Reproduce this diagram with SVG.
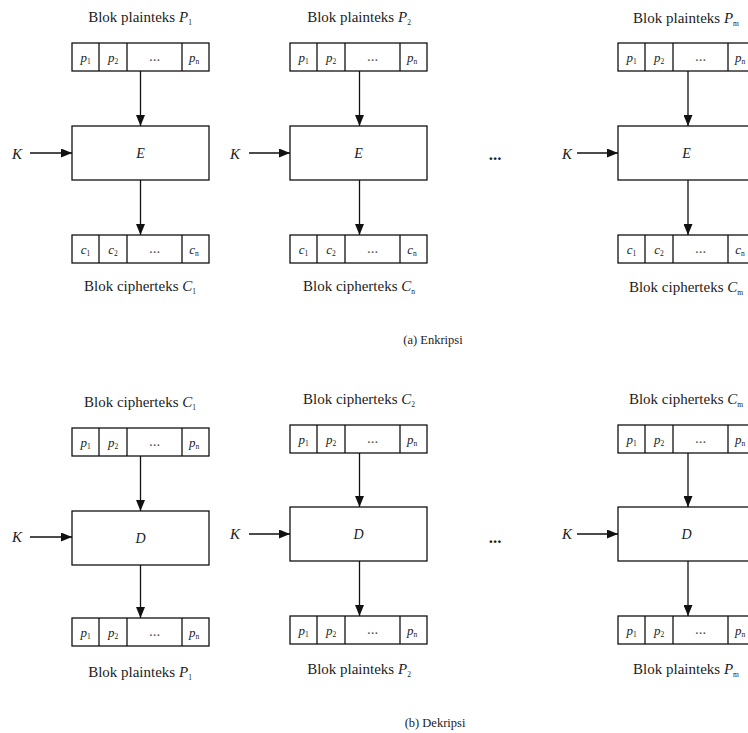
<svg xmlns="http://www.w3.org/2000/svg" width="748" height="733" viewBox="0 0 748 733">
  <defs>
    <style>
      text { font-family: "Liberation Serif", "Times New Roman", serif; fill: #1c1c1c; }
      .title { font-size: 15px; text-anchor: middle; }
      .cap { font-size: 12.5px; text-anchor: middle; }
      .cell { font-size: 13px; text-anchor: middle; font-style: italic; }
      .dots { font-size: 15px; text-anchor: middle; fill: #555; }
      .gap { font-size: 17px; text-anchor: middle; font-weight: bold; }
      .op { font-size: 14px; text-anchor: middle; font-style: italic; }
      .key { font-size: 15px; font-style: italic; }
      .it { font-style: italic; }
      .sub { font-size: 7.5px; font-style: normal; }
      .frame { fill: #fff; stroke: #111; stroke-width: 1.3; }
      .div { stroke: #111; stroke-width: 1.3; }
      .wire { stroke: #111; stroke-width: 1.3; fill: none; marker-end: url(#head); }
    </style>
    <marker id="head" markerUnits="userSpaceOnUse" markerWidth="12" markerHeight="9" refX="11" refY="4.5" orient="auto">
      <path d="M0,0 L11,4.5 L0,9 z" fill="#111"/>
    </marker>
    <!-- block of n bits: four cells, divider offsets 27 / 55 / 110 -->
    <g id="cells">
      <rect class="frame" x="0" y="0" width="137" height="28"/>
      <line class="div" x1="27" y1="0" x2="27" y2="28"/>
      <line class="div" x1="55" y1="0" x2="55" y2="28"/>
      <line class="div" x1="110" y1="0" x2="110" y2="28"/>
      <text class="dots" x="82.5" y="18">...</text>
    </g>
    <g id="pcells">
      <use href="#cells"/>
      <text class="cell" x="13.5" y="19">p<tspan class="sub" dy="2">1</tspan></text>
      <text class="cell" x="41" y="19">p<tspan class="sub" dy="2">2</tspan></text>
      <text class="cell" x="122" y="19">p<tspan class="sub" dy="2">n</tspan></text>
    </g>
    <g id="ccells">
      <use href="#cells"/>
      <text class="cell" x="13.5" y="19">c<tspan class="sub" dy="2">1</tspan></text>
      <text class="cell" x="41" y="19">c<tspan class="sub" dy="2">2</tspan></text>
      <text class="cell" x="122" y="19">c<tspan class="sub" dy="2">n</tspan></text>
    </g>
  </defs>

  <rect x="0" y="0" width="748" height="733" fill="#fff"/>

  <!-- (a) encryption -->
  <g id="enc-in-1" transform="translate(72,43)"><use href="#pcells"/></g>
  <g id="enc-E-1" transform="translate(72,126)">
    <rect class="frame" x="0" y="0" width="137" height="54"/>
    <text class="op" x="68.5" y="32">E</text>
  </g>
  <g id="enc-out-1" transform="translate(72,235)"><use href="#ccells"/></g>
  <g id="enc-K-1"><text class="key" x="12" y="159">K</text></g>
  <g id="enc-lbl-1">
    <text class="title" x="140" y="22">Blok plainteks <tspan class="it">P</tspan><tspan class="sub" dy="3">1</tspan></text>
    <text class="title" x="140" y="291">Blok cipherteks <tspan class="it">C</tspan><tspan class="sub" dy="3">1</tspan></text>
  </g>

  <g id="enc-in-2" transform="translate(290,43)"><use href="#pcells"/></g>
  <g id="enc-E-2" transform="translate(290,126)">
    <rect class="frame" x="0" y="0" width="137" height="54"/>
    <text class="op" x="68.5" y="32">E</text>
  </g>
  <g id="enc-out-2" transform="translate(290,235)"><use href="#ccells"/></g>
  <g id="enc-K-2"><text class="key" x="230" y="159">K</text></g>
  <g id="enc-lbl-2">
    <text class="title" x="359" y="22">Blok plainteks <tspan class="it">P</tspan><tspan class="sub" dy="3">2</tspan></text>
    <text class="title" x="359" y="291">Blok cipherteks <tspan class="it">C</tspan><tspan class="sub" dy="3">n</tspan></text>
  </g>

  <g id="enc-gap"><text class="gap" x="495" y="160">...</text></g>

  <g id="enc-in-m" transform="translate(618,43)"><use href="#pcells"/></g>
  <g id="enc-E-m" transform="translate(618,126)">
    <rect class="frame" x="0" y="0" width="137" height="54"/>
    <text class="op" x="68.5" y="32">E</text>
  </g>
  <g id="enc-out-m" transform="translate(618,235)"><use href="#ccells"/></g>
  <g id="enc-K-m"><text class="key" x="562" y="159">K</text></g>
  <g id="enc-lbl-m">
    <text class="title" x="686" y="23">Blok plainteks <tspan class="it">P</tspan><tspan class="sub" dy="3">m</tspan></text>
    <text class="title" x="686" y="292">Blok cipherteks <tspan class="it">C</tspan><tspan class="sub" dy="3">m</tspan></text>
  </g>

  <g id="cap-a"><text class="cap" x="433" y="344">(a) Enkripsi</text></g>

  <!-- (b) decryption -->
  <g id="dec-in-1" transform="translate(72,428)"><use href="#pcells"/></g>
  <g id="dec-D-1" transform="translate(72,511)">
    <rect class="frame" x="0" y="0" width="137" height="54"/>
    <text class="op" x="68.5" y="32">D</text>
  </g>
  <g id="dec-out-1" transform="translate(72,618)"><use href="#pcells"/></g>
  <g id="dec-K-1"><text class="key" x="12" y="542">K</text></g>
  <g id="dec-lbl-1">
    <text class="title" x="140" y="407">Blok cipherteks <tspan class="it">C</tspan><tspan class="sub" dy="3">1</tspan></text>
    <text class="title" x="140" y="677">Blok plainteks <tspan class="it">P</tspan><tspan class="sub" dy="3">1</tspan></text>
  </g>

  <g id="dec-in-2" transform="translate(290,425)"><use href="#pcells"/></g>
  <g id="dec-D-2" transform="translate(290,507)">
    <rect class="frame" x="0" y="0" width="137" height="54"/>
    <text class="op" x="68.5" y="32">D</text>
  </g>
  <g id="dec-out-2" transform="translate(290,616)"><use href="#pcells"/></g>
  <g id="dec-K-2"><text class="key" x="230" y="539">K</text></g>
  <g id="dec-lbl-2">
    <text class="title" x="359" y="404">Blok cipherteks <tspan class="it">C</tspan><tspan class="sub" dy="3">2</tspan></text>
    <text class="title" x="359" y="674">Blok plainteks <tspan class="it">P</tspan><tspan class="sub" dy="3">2</tspan></text>
  </g>

  <g id="dec-gap"><text class="gap" x="495" y="543">...</text></g>

  <g id="dec-in-m" transform="translate(618,425)"><use href="#pcells"/></g>
  <g id="dec-D-m" transform="translate(618,507)">
    <rect class="frame" x="0" y="0" width="137" height="54"/>
    <text class="op" x="68.5" y="32">D</text>
  </g>
  <g id="dec-out-m" transform="translate(618,616)"><use href="#pcells"/></g>
  <g id="dec-K-m"><text class="key" x="562" y="539">K</text></g>
  <g id="dec-lbl-m">
    <text class="title" x="686" y="404">Blok cipherteks <tspan class="it">C</tspan><tspan class="sub" dy="3">m</tspan></text>
    <text class="title" x="686" y="674">Blok plainteks <tspan class="it">P</tspan><tspan class="sub" dy="3">m</tspan></text>
  </g>

  <g id="cap-b"><text class="cap" x="435" y="727">(b) Dekripsi</text></g>

  <!-- connectors -->
  <g id="connectors">
    <line class="wire" x1="140.5" y1="71" x2="140.5" y2="126"/>
    <line class="wire" x1="140.5" y1="180" x2="140.5" y2="235"/>
    <line class="wire" x1="30" y1="153" x2="72" y2="153"/>

    <line class="wire" x1="359.5" y1="71" x2="359.5" y2="126"/>
    <line class="wire" x1="359.5" y1="180" x2="359.5" y2="235"/>
    <line class="wire" x1="249" y1="153" x2="290" y2="153"/>

    <line class="wire" x1="688" y1="71" x2="688" y2="126"/>
    <line class="wire" x1="688" y1="180" x2="688" y2="235"/>
    <line class="wire" x1="577" y1="153" x2="618" y2="153"/>

    <line class="wire" x1="140.5" y1="456" x2="140.5" y2="511"/>
    <line class="wire" x1="140.5" y1="565" x2="140.5" y2="618"/>
    <line class="wire" x1="30" y1="537" x2="72" y2="537"/>

    <line class="wire" x1="359.5" y1="453" x2="359.5" y2="507"/>
    <line class="wire" x1="359.5" y1="561" x2="359.5" y2="616"/>
    <line class="wire" x1="249" y1="534" x2="290" y2="534"/>

    <line class="wire" x1="688" y1="453" x2="688" y2="507"/>
    <line class="wire" x1="688" y1="561" x2="688" y2="616"/>
    <line class="wire" x1="577" y1="534" x2="618" y2="534"/>
  </g>
</svg>
